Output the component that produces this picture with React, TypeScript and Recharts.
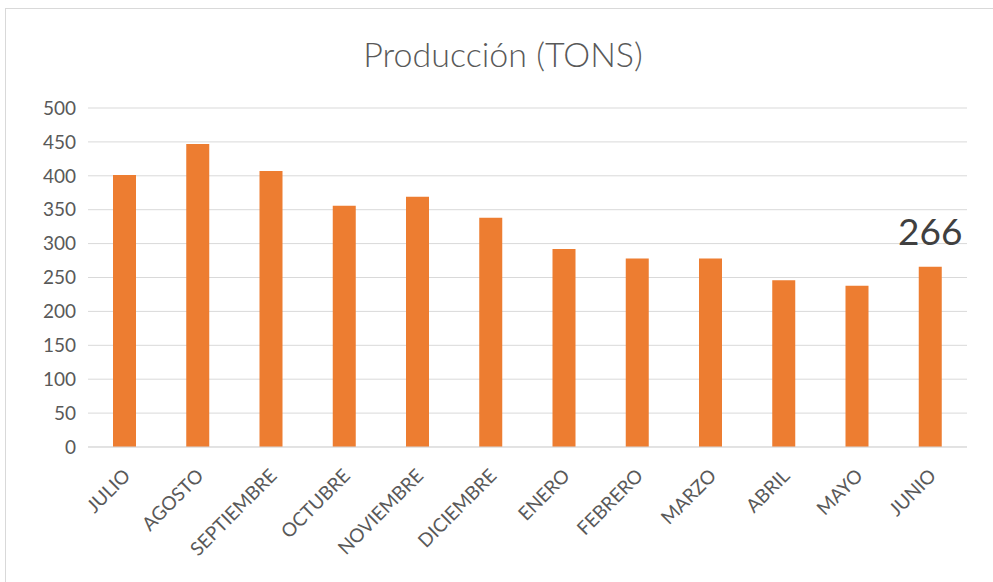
import React from "react";
import { BarChart, Bar, XAxis, YAxis, CartesianGrid, LabelList } from "recharts";

const MONTHS = [
  "JULIO",
  "AGOSTO",
  "SEPTIEMBRE",
  "OCTUBRE",
  "NOVIEMBRE",
  "DICIEMBRE",
  "ENERO",
  "FEBRERO",
  "MARZO",
  "ABRIL",
  "MAYO",
  "JUNIO",
];
const TONS = [401, 447, 407, 356, 369, 338, 292, 278, 278, 246, 238, 266];
const Y_TICKS = [0, 50, 100, 150, 200, 250, 300, 350, 400, 450, 500];

const FONT = "Lato, 'Open Sans', sans-serif";
const TEXT = "#595959";

const data = MONTHS.map((m, i) => ({ mes: m, tons: TONS[i] }));

// etiquetas del eje X giradas 45 grados, como en Excel
function MonthTick(props: any) {
  const { x, y, payload } = props;
  const ax = x + 7;
  const ay = y + 22;
  return (
    <text
      x={ax}
      y={ay}
      textAnchor="end"
      fill={TEXT}
      fontSize={19}
      fontFamily={FONT}
      transform={`rotate(-45, ${ax}, ${ay})`}
    >
      {payload.value}
    </text>
  );
}

// solo el último mes lleva etiqueta
function LastLabel(props: any) {
  const { x, y, width, value, index } = props;
  if (index !== data.length - 1) return null;
  return (
    <text
      x={x + width / 2}
      y={y - 22}
      textAnchor="middle"
      fill="#404040"
      fontSize={37}
      fontFamily={FONT}
    >
      {value}
    </text>
  );
}

export default function App() {
  return (
    <div
      style={{
        position: "absolute",
        left: 0,
        top: 0,
        width: 993,
        height: 582,
        background: "#fff",
        fontFamily: FONT,
      }}
    >
      <div
        style={{
          position: "absolute",
          left: 5,
          top: 8,
          width: 1000,
          height: 600,
          border: "1px solid #d9d9d9",
        }}
      />
      <div
        style={{
          position: "absolute",
          left: 0,
          top: 33,
          width: 1006,
          textAlign: "center",
          fontSize: 34,
          fontWeight: 300,
          color: TEXT,
        }}
      >
        Producción (TONS)
      </div>
      <BarChart
        width={993}
        height={582}
        data={data}
        margin={{ top: 108, right: 26, bottom: 0, left: 0 }}
        style={{ position: "absolute", left: 0, top: 0 }}
      >
        <CartesianGrid vertical={false} stroke="#d9d9d9" strokeWidth={1} />
        <XAxis
          dataKey="mes"
          interval={0}
          height={135}
          tickLine={false}
          axisLine={{ stroke: "#d9d9d9" }}
          tick={<MonthTick />}
        />
        <YAxis
          width={88}
          domain={[0, 500]}
          ticks={Y_TICKS}
          interval={0}
          tickLine={false}
          axisLine={false}
          tickMargin={6}
          tick={{ fill: TEXT, fontSize: 19, fontFamily: FONT }}
        />
        <Bar dataKey="tons" fill="#ED7D31" barSize={23} isAnimationActive={false}>
          <LabelList dataKey="tons" content={<LastLabel />} />
        </Bar>
      </BarChart>
    </div>
  );
}
